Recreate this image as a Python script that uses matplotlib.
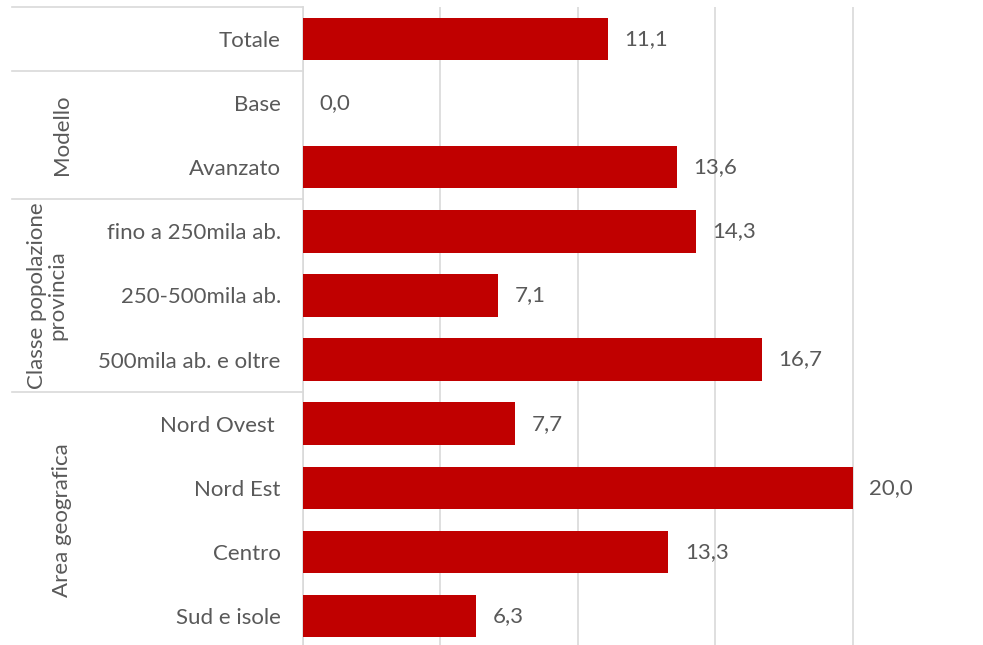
import matplotlib.pyplot as plt
from matplotlib.transforms import blended_transform_factory

categorie = ['Totale', 'Base', 'Avanzato', 'fino a 250mila ab.', '250-500mila ab.',
             '500mila ab. e oltre', 'Nord Ovest ', 'Nord Est', 'Centro', 'Sud e isole']
valori = [11.1, 0.0, 13.6, 14.3, 7.1, 16.7, 7.7, 20.0, 13.3, 6.3]
gruppi = ['Modello', 'Classe popolazione\nprovincia', 'Area geografica']
gruppi_righe = [(1, 2), (3, 5), (6, 9)]  # prima e ultima riga di ogni gruppo
separatori = [-0.5, 0.5, 2.5, 5.5]

plt.rcParams['font.family'] = ['Lato', 'DejaVu Sans']
grigio = '#595959'

fig = plt.figure(figsize=(9.83, 6.45), dpi=100)
ax = fig.add_axes([303/983, 1 - 648/645, (990 - 303)/983, 641/645])

pos = list(range(len(categorie)))
ax.barh(pos, valori, height=0.66, color='#C00000', zorder=3)
ax.set_ylim(len(categorie) - 0.5, -0.5)
ax.set_xlim(0, 25)
ax.set_xticks([0, 5, 10, 15, 20, 25])
ax.xaxis.grid(True, color='#D9D9D9', linewidth=1.2)
ax.tick_params(axis='x', length=0, labelbottom=False)
ax.tick_params(axis='y', length=0, pad=16, labelsize=16, labelcolor=grigio)
ax.set_yticks(pos)
ax.set_yticklabels(categorie)
for s in ['top', 'right', 'bottom']:
    ax.spines[s].set_visible(False)
ax.spines['left'].set_color('#D9D9D9')
ax.spines['left'].set_linewidth(1.2)

for y, v in zip(pos, valori):
    ax.annotate(f'{v:.1f}'.replace('.', ','), (v, y), xytext=(12, 0),
                textcoords='offset points', va='center', ha='left',
                fontsize=16, color=grigio)

# separatori e etichette di gruppo a sinistra
tr = blended_transform_factory(fig.transFigure, ax.transData)
for s in separatori:
    ax.plot([12/983, 303/983], [s, s], transform=tr, color='#D9D9D9',
            linewidth=1.2, clip_on=False)

for nome, (a, b) in zip(gruppi, gruppi_righe):
    ax.text(47/983 if '\n' in nome else 62/983, (a + b) / 2, nome, transform=tr,
            rotation=90, ha='center', va='center', fontsize=16, color=grigio,
            linespacing=1.05)

plt.savefig('out.png', dpi=100)
